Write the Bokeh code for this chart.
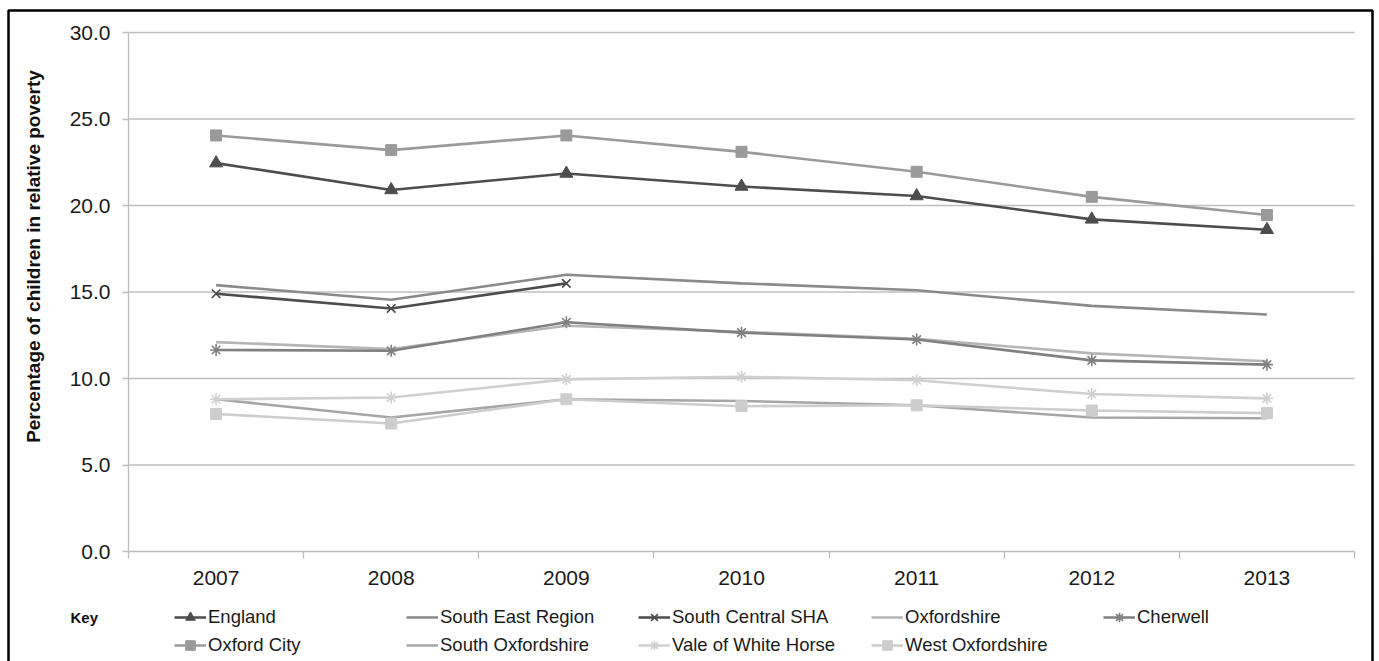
import math
from bokeh.plotting import figure
from bokeh.models import (FixedTicker, NumeralTickFormatter, Legend, LegendItem,
                          Label, BoxAnnotation, Range1d)
from bokeh.embed import file_html
from bokeh.resources import INLINE

years = [2007, 2008, 2009, 2010, 2011, 2012, 2013]
england = [22.45, 20.9, 21.85, 21.1, 20.55, 19.2, 18.6]
south_east = [15.4, 14.55, 16.0, 15.5, 15.1, 14.2, 13.7]
south_central = [14.9, 14.05, 15.5]
oxfordshire = [12.1, 11.7, 13.05, 12.7, 12.3, 11.45, 11.0]
cherwell = [11.65, 11.6, 13.25, 12.65, 12.25, 11.05, 10.8]
oxford_city = [24.05, 23.2, 24.05, 23.1, 21.95, 20.5, 19.45]
south_oxon = [8.8, 7.75, 8.8, 8.7, 8.45, 7.75, 7.7]
vale = [8.8, 8.9, 9.95, 10.1, 9.9, 9.1, 8.85]
west_oxon = [7.95, 7.4, 8.8, 8.4, 8.45, 8.15, 8.0]

y_ticks = [0, 5, 10, 15, 20, 25, 30]
y_title = "Percentage of children in relative poverty"
key_text = "Key"

FONT = "Liberation Sans"

# page layout (pixels)
W, H = 1379, 661
FL, FR, FT, FB = 128, 1354, 32, 551
ppx = (FR - FL) / (len(years))
ppy = (FB - FT) / (y_ticks[-1] - y_ticks[0])
xs0 = years[0] - 0.5 - FL / ppx
xs1 = years[-1] + 0.5 + (W - FR) / ppx
ys0 = y_ticks[0] - (H - FB) / ppy
ys1 = y_ticks[-1] + FT / ppy

p = figure(width=W, height=H, output_backend="svg", toolbar_location=None,
           x_range=Range1d(xs0, xs1), y_range=Range1d(ys0, ys1),
           min_border=0, min_border_left=0, min_border_right=0,
           min_border_top=0, min_border_bottom=0)
p.outline_line_color = None
p.background_fill_color = "white"
p.border_fill_color = "white"
p.xgrid.visible = False
p.ygrid.visible = False

# axes (fixed inside the frame)
xa = p.xaxis[0]
xa.fixed_location = y_ticks[0]
xa.bounds = (years[0] - 0.5, years[-1] + 0.5)
xa.ticker = FixedTicker(ticks=years, minor_ticks=[y - 0.5 for y in years] + [years[-1] + 0.5])
xa.major_tick_out = 0
xa.major_tick_in = 0
xa.minor_tick_out = 7
xa.minor_tick_in = 0
xa.minor_tick_line_color = "#bdbdbd"
xa.minor_tick_line_width = 1.3
xa.axis_line_color = "#bdbdbd"
xa.axis_line_width = 1.3
xa.major_label_text_font = FONT
xa.major_label_text_font_size = "21px"
xa.major_label_text_color = "#1a1a1a"
xa.major_label_standoff = 12

ya = p.yaxis[0]
ya.fixed_location = years[0] - 0.5
ya.bounds = (y_ticks[0], y_ticks[-1])
ya.ticker = FixedTicker(ticks=y_ticks, minor_ticks=[])
ya.formatter = NumeralTickFormatter(format="0.0")
ya.major_tick_out = 6
ya.major_tick_in = 0
ya.major_tick_line_color = "#bdbdbd"
ya.major_tick_line_width = 1.3
ya.axis_line_color = "#bdbdbd"
ya.axis_line_width = 1.3
ya.major_label_text_font = FONT
ya.major_label_text_font_size = "21px"
ya.major_label_text_color = "#1a1a1a"
ya.major_label_standoff = 12

# horizontal gridlines limited to the plot area
gl = y_ticks[1:]
p.segment(x0=[years[0] - 0.5] * len(gl), x1=[years[-1] + 0.5] * len(gl), y0=gl, y1=gl,
          line_color="#bfbfbf", line_width=1.3)

LW = 2.6
series = [
    ("England", years, england, "#4d4d4d", "triangle", 13),
    ("South East Region", years, south_east, "#8a8a8a", None, 0),
    ("South Central SHA", years[:len(south_central)], south_central, "#4d4d4d", "x", 12),
    ("Oxfordshire", years, oxfordshire, "#b5b5b5", None, 0),
    ("Cherwell", years, cherwell, "#808080", "asterisk", 12),
    ("Oxford City", years, oxford_city, "#9a9a9a", "square", 11),
    ("South Oxfordshire", years, south_oxon, "#a6a6a6", None, 0),
    ("Vale of White Horse", years, vale, "#d0d0d0", "asterisk", 12),
    ("West Oxfordshire", years, west_oxon, "#cdcdcd", "square", 11),
]

items = {}
for name, xs, ys, col, marker, size in series:
    rs = [p.line(xs, ys, line_color=col, line_width=LW)]
    if marker:
        if marker in ("x", "asterisk"):
            rs.append(p.scatter(xs, ys, marker=marker, size=size, line_color=col, line_width=1.6))
        else:
            rs.append(p.scatter(xs, ys, marker=marker, size=size, fill_color=col, line_color=col))
    items[name] = LegendItem(label=name, renderers=rs)

columns = [
    ["England", "Oxford City"],
    ["South East Region", "South Oxfordshire"],
    ["South Central SHA", "Vale of White Horse"],
    ["Oxfordshire", "West Oxfordshire"],
    ["Cherwell"],
]
col_x = [174, 406, 638, 871, 1103]
ROW_TOP = 605
GH, SP = 24, 4
for cx, names in zip(col_x, columns):
    n = len(names)
    h = n * GH + (n - 1) * SP
    lg = Legend(items=[items[k] for k in names], location=(cx, H - ROW_TOP - h),
                orientation="vertical", padding=0, margin=0, spacing=SP,
                glyph_width=32, glyph_height=GH, label_height=GH, label_standoff=2,
                label_text_font=FONT, label_text_font_size="18.5px", label_text_color="#1a1a1a",
                border_line_color=None, background_fill_alpha=0)
    p.add_layout(lg, "center")

p.add_layout(Label(x=70, y=H - 617, x_units="screen", y_units="screen", text=key_text,
                   text_font=FONT, text_font_style="bold", text_font_size="15px",
                   text_baseline="middle", text_align="left", text_color="#111111"))

p.add_layout(Label(x=33, y=H - 256, x_units="screen", y_units="screen", text=y_title,
                   angle=math.pi / 2, text_font=FONT, text_font_style="bold",
                   text_font_size="19px", text_baseline="middle", text_align="center",
                   text_color="#111111"))

p.add_layout(BoxAnnotation(left=8, right=1372, top=H - 10, bottom=-20,
                           left_units="screen", right_units="screen",
                           top_units="screen", bottom_units="screen",
                           fill_alpha=0, line_color="black", line_alpha=1.0, line_width=2.5))

open("out.html", "w").write(file_html(p, INLINE))
